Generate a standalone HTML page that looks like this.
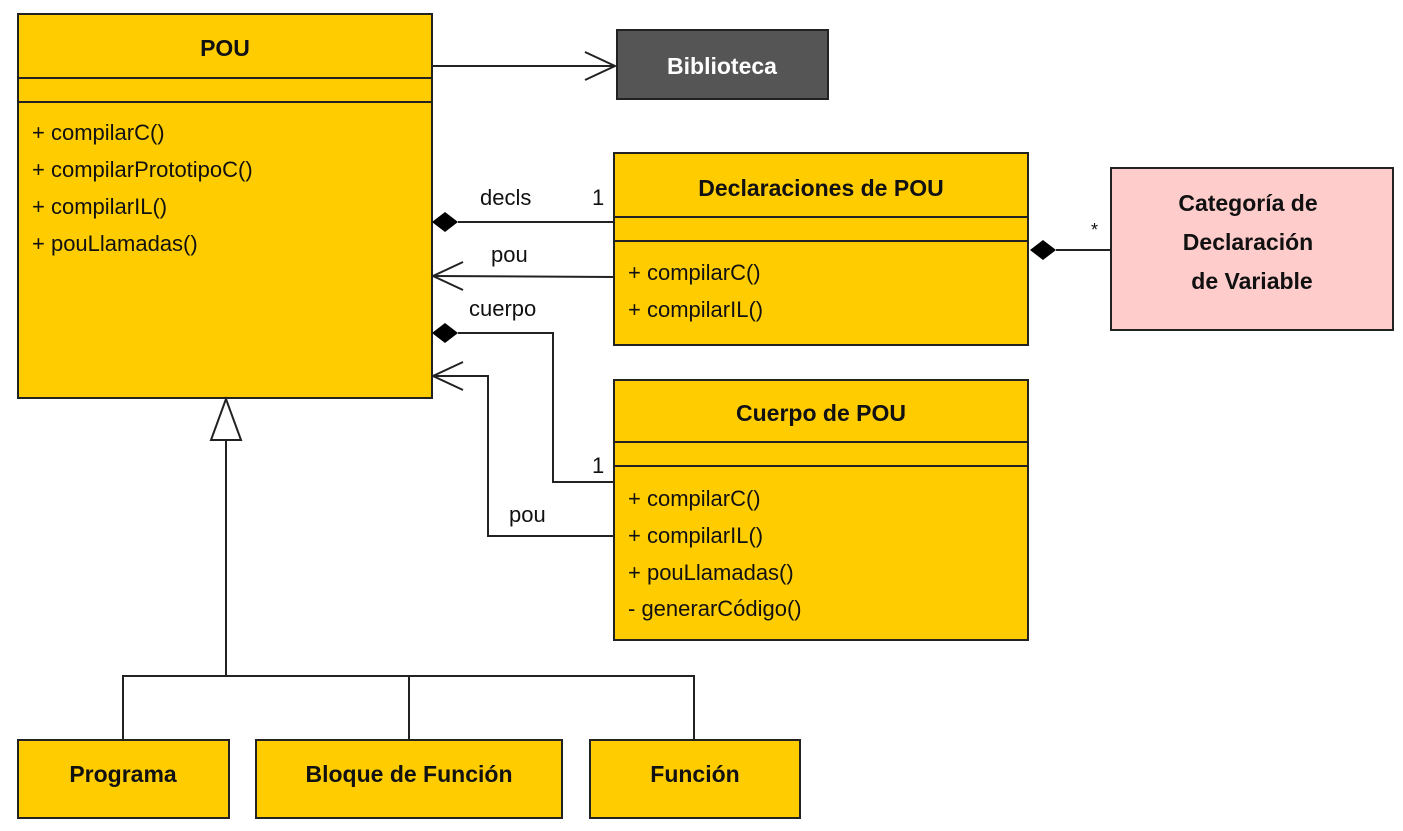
<!DOCTYPE html>
<html><head><meta charset="utf-8"><style>
html,body{margin:0;padding:0;background:#fff;width:1403px;height:831px;overflow:hidden}
svg{display:block}
text{font-family:"Liberation Sans",Arial,sans-serif;fill:#111}
.b{font-weight:bold;font-size:23px}
</style></head><body>
<svg width="1403" height="831" viewBox="0 0 1403 831" xmlns="http://www.w3.org/2000/svg">
<g stroke="#222" stroke-width="2" fill="#FFCC00">
<rect x="18" y="14" width="414" height="384"/>
<rect x="614" y="153" width="414" height="192"/>
<rect x="614" y="380" width="414" height="260"/>
<rect x="18" y="740" width="211" height="78"/>
<rect x="256" y="740" width="306" height="78"/>
<rect x="590" y="740" width="210" height="78"/>
<rect x="1111" y="168" width="282" height="162" fill="#FFCCCC"/>
<rect x="617" y="30" width="211" height="69" fill="#555555"/>
</g>
<g stroke="#222" stroke-width="2" fill="none">
<line x1="18" y1="78" x2="432" y2="78"/><line x1="18" y1="102" x2="432" y2="102"/>
<line x1="614" y1="217" x2="1028" y2="217"/><line x1="614" y1="241" x2="1028" y2="241"/>
<line x1="614" y1="442" x2="1028" y2="442"/><line x1="614" y1="466" x2="1028" y2="466"/>
<line x1="432" y1="66" x2="615" y2="66"/><polyline points="585,52 615,66 585,80"/>
<line x1="458" y1="222" x2="614" y2="222"/>
<line x1="433" y1="276" x2="614" y2="277"/><polyline points="463,262 433,276 463,290"/>
<polyline points="458,333 553,333 553,482 614,482"/>
<polyline points="614,536 488,536 488,376 433,376"/><polyline points="463,362 433,376 463,390"/>
<line x1="1056" y1="250" x2="1111" y2="250"/>
<line x1="226" y1="440" x2="226" y2="676"/>
<polyline points="123,740 123,676 694,676 694,740"/>
<line x1="409" y1="676" x2="409" y2="740"/>
<polygon points="226,399 211,440 241,440" fill="#fff"/>
</g>
<g fill="#000">
<polygon points="432,222 445,212 458,222 445,232"/>
<polygon points="432,333 445,323 458,333 445,343"/>
<polygon points="1030,250 1043,240 1056,250 1043,260"/>
</g>
<g font-size="22">
<text class="b" x="225" y="56" text-anchor="middle">POU</text>
<text x="32" y="140">+ compilarC()</text>
<text x="32" y="177">+ compilarPrototipoC()</text>
<text x="32" y="214">+ compilarIL()</text>
<text x="32" y="251">+ pouLlamadas()</text>
<text class="b" x="722" y="74" text-anchor="middle" style="fill:#fff">Biblioteca</text>
<text class="b" x="821" y="196" text-anchor="middle">Declaraciones de POU</text>
<text x="628" y="280">+ compilarC()</text>
<text x="628" y="317">+ compilarIL()</text>
<text class="b" x="821" y="421" text-anchor="middle">Cuerpo de POU</text>
<text x="628" y="506">+ compilarC()</text>
<text x="628" y="543">+ compilarIL()</text>
<text x="628" y="580">+ pouLlamadas()</text>
<text x="628" y="616">- generarCódigo()</text>
<text class="b" x="1248" y="211" text-anchor="middle">Categoría de</text>
<text class="b" x="1248" y="250" text-anchor="middle">Declaración</text>
<text class="b" x="1252" y="289" text-anchor="middle">de Variable</text>
<text class="b" x="123" y="782" text-anchor="middle">Programa</text>
<text class="b" x="409" y="782" text-anchor="middle">Bloque de Función</text>
<text class="b" x="695" y="782" text-anchor="middle">Función</text>
<text x="480" y="205">decls</text>
<text x="592" y="205">1</text>
<text x="491" y="262">pou</text>
<text x="469" y="316">cuerpo</text>
<text x="592" y="473">1</text>
<text x="509" y="522">pou</text>
<text x="1091" y="236" font-size="18">*</text>
</g>
</svg>
</body></html>
